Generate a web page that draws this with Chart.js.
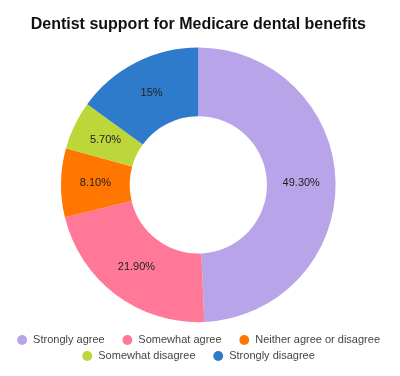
<!DOCTYPE html>
<html>
<head>
<meta charset="utf-8">
<script src="https://cdn.jsdelivr.net/npm/chart.js@4"></script>
<style>
html,body{margin:0;padding:0;background:#fff;}
#wrap{width:400px;height:376px;}
</style>
</head>
<body>
<div id="wrap"><canvas id="c" width="400" height="376"></canvas></div>
<script>
const categories = ["Strongly agree", "Somewhat agree", "Neither agree or disagree", "Somewhat disagree", "Strongly disagree"];
const values = [49.3, 21.9, 8.1, 5.7, 15];
const valueLabels = ["49.30%", "21.90%", "8.10%", "5.70%", "15%"];
const colors = ["#B8A4E9", "#FF7898", "#FF7600", "#BDD639", "#2E7BCB"];

// legend items that end a row (no extra trailing gap after them)
const legendRowEnds = [2, 4];
const legendGap = "\u00a0\u00a0\u00a0\u00a0";

const sliceLabels = {
  id: 'sliceLabels',
  afterDatasetsDraw(chart) {
    const ctx = chart.ctx;
    const meta = chart.getDatasetMeta(0);
    ctx.save();
    ctx.font = '11px "Liberation Sans", Arial, sans-serif';
    ctx.fillStyle = '#222';
    ctx.textAlign = 'center';
    ctx.textBaseline = 'middle';
    meta.data.forEach((arc, i) => {
      const p = arc.tooltipPosition();
      ctx.fillText(valueLabels[i], p.x, p.y);
    });
    ctx.restore();
  }
};

new Chart(document.getElementById('c'), {
  type: 'doughnut',
  data: {
    labels: categories,
    datasets: [{
      data: values,
      backgroundColor: colors,
      borderWidth: 0,
      hoverOffset: 0
    }]
  },
  options: {
    responsive: false,
    animation: false,
    cutout: '50%',
    radius: 137.3,
    layout: { padding: { top: 0, bottom: 4.5, left: 0, right: 3.4 } },
    plugins: {
      title: {
        display: true,
        text: 'Dentist support for Medicare dental benefits',
        color: '#111',
        font: { family: '"Liberation Sans", Arial, sans-serif', size: 16, weight: 'bold' },
        padding: { top: 15, bottom: 6 }
      },
      legend: {
        position: 'bottom',
        labels: {
          usePointStyle: true,
          pointStyle: 'circle',
          boxWidth: 11,
          boxHeight: 7,
          padding: 5,
          color: '#444',
          font: { family: '"Liberation Sans", Arial, sans-serif', size: 11 },
          generateLabels(chart) {
            const items = Chart.overrides.doughnut.plugins.legend.labels.generateLabels(chart);
            items.forEach((it, i) => {
              if (!legendRowEnds.includes(i)) it.text = it.text + legendGap;
            });
            return items;
          }
        }
      },
      tooltip: { enabled: false }
    }
  },
  plugins: [sliceLabels]
});
</script>
</body>
</html>
